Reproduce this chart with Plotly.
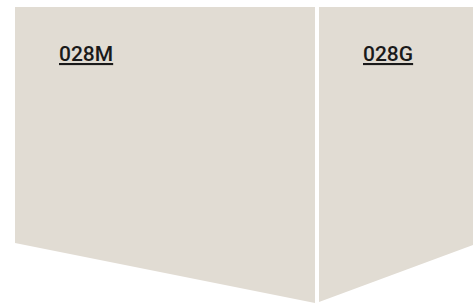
import plotly.graph_objects as go

# Categories (panel labels)
categories = ["028M", "028G"]
# Panel horizontal extents (chart units)
panel_start = [15, 319]
panel_end = [315, 473]
# Panel top and bottom edges (outer side / inner side near the center divide)
panel_top = [7, 7]
bottom_at_start = [243, 302]
bottom_at_end = [303, 245]

FILL = "#e1dcd3"

fig = go.Figure()
for i, name in enumerate(categories):
    xs = [panel_start[i], panel_end[i], panel_end[i], panel_start[i], panel_start[i]]
    ys = [panel_top[i], panel_top[i], bottom_at_end[i], bottom_at_start[i], panel_top[i]]
    fig.add_trace(go.Scatter(
        x=xs, y=ys, mode="lines", fill="toself", fillcolor=FILL,
        line=dict(width=0, color=FILL), hoverinfo="skip", showlegend=False, name=name))
    fig.add_annotation(
        x=panel_start[i] + 42, y=54, xref="x", yref="y",
        text=f"<u>{name}</u>", showarrow=False, xanchor="left", yanchor="middle",
        font=dict(family="Roboto", size=21, color="#1a1a1a", weight=500))

fig.update_layout(
    width=473, height=304, margin=dict(l=0, r=0, t=0, b=0),
    paper_bgcolor="white", plot_bgcolor="white",
    xaxis=dict(range=[0, 473], visible=False, fixedrange=True),
    yaxis=dict(range=[304, 0], visible=False, fixedrange=True),
)
fig.write_html("out.html", config={"displayModeBar": False},
               post_script="document.body.style.margin='0';document.body.style.padding='0';")
